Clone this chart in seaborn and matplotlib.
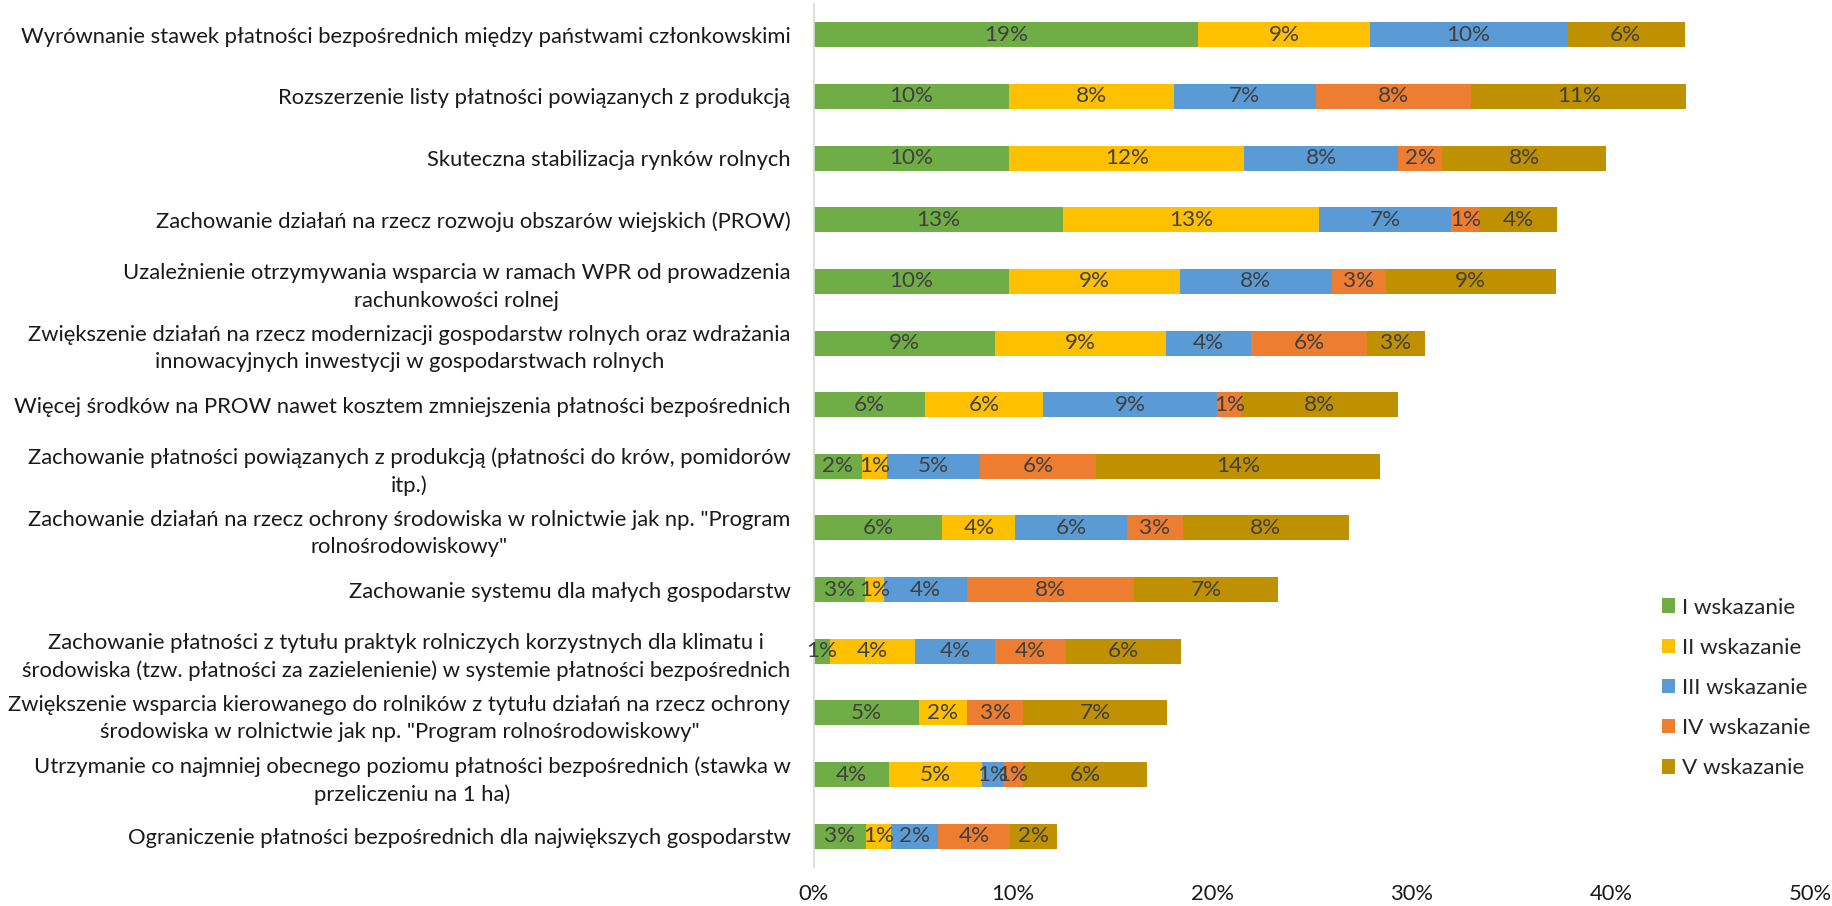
import matplotlib
matplotlib.use("Agg")
import matplotlib.pyplot as plt
import seaborn as sns
import numpy as np

categories = [
    "Wyrównanie stawek płatności bezpośrednich między państwami członkowskimi",
    "Rozszerzenie listy płatności powiązanych z produkcją",
    "Skuteczna stabilizacja rynków rolnych",
    "Zachowanie działań na rzecz rozwoju obszarów wiejskich (PROW)",
    "Uzależnienie otrzymywania wsparcia w ramach WPR od prowadzenia\nrachunkowości rolnej",
    "Zwiększenie działań na rzecz modernizacji gospodarstw rolnych oraz wdrażania\ninnowacyjnych inwestycji w gospodarstwach rolnych",
    "Więcej środków na PROW nawet kosztem zmniejszenia płatności bezpośrednich",
    "Zachowanie płatności powiązanych z produkcją (płatności do krów, pomidorów\nitp.)",
    "Zachowanie działań na rzecz ochrony środowiska w rolnictwie jak np. \"Program\nrolnośrodowiskowy\"",
    "Zachowanie systemu dla małych gospodarstw",
    "Zachowanie płatności z tytułu praktyk rolniczych korzystnych dla klimatu i\nśrodowiska (tzw. płatności za zazielenienie) w systemie płatności bezpośrednich",
    "Zwiększenie wsparcia kierowanego do rolników z tytułu działań na rzecz ochrony\nśrodowiska w rolnictwie jak np. \"Program rolnośrodowiskowy\"",
    "Utrzymanie co najmniej obecnego poziomu płatności bezpośrednich (stawka w\nprzeliczeniu na 1 ha)",
    "Ograniczenie płatności bezpośrednich dla największych gospodarstw",
]

series_names = ["I wskazanie", "II wskazanie", "III wskazanie", "IV wskazanie", "V wskazanie"]

# percent of answers
wsk_1 = [19.3, 9.8, 9.8, 12.5, 9.8, 9.1, 5.55, 2.4, 6.45, 2.55, 0.8, 5.25, 3.75, 2.6]
wsk_2 = [8.6, 8.25, 11.8, 12.85, 8.55, 8.55, 5.95, 1.25, 3.65, 0.95, 4.25, 2.45, 4.7, 1.25]
wsk_3 = [9.9, 7.15, 7.7, 6.65, 7.65, 4.3, 8.75, 4.7, 5.6, 4.2, 4.05, 0.0, 1.05, 2.4]
wsk_4 = [0.0, 7.8, 2.25, 1.4, 2.7, 5.8, 1.2, 5.8, 2.8, 8.35, 3.55, 2.8, 1.0, 3.6]
wsk_5 = [5.9, 10.8, 8.2, 3.9, 8.55, 2.9, 7.85, 14.25, 8.35, 7.25, 5.75, 7.2, 6.2, 2.35]

colors = ["#70AD47", "#FFC000", "#5B9BD5", "#ED7D31", "#BF9000"]

FONT = "Lato"
FS = 15.8

sns.set_theme(style="white")
plt.rcParams["font.family"] = [FONT, "DejaVu Sans"]

fig, ax = plt.subplots(figsize=(18.33, 9.06), dpi=100)
fig.subplots_adjust(left=814 / 1833, right=1810 / 1833, top=1 - 4 / 906, bottom=1 - 867 / 906)

left = np.zeros(len(categories))
for name, vals, color in zip(series_names, [wsk_1, wsk_2, wsk_3, wsk_4, wsk_5], colors):
    vals = np.array(vals)
    sns.barplot(x=vals, y=categories, left=left, color=color, saturation=1,
                width=0.405, linewidth=0, label=name, ax=ax)
    labels = [f"{int(v + 0.5)}%" if v > 0 else "" for v in vals]
    ax.bar_label(ax.containers[-1], labels=labels, label_type="center",
                 color="#404040", fontsize=FS + 0.4, family=FONT)
    left += vals

ax.set_xlim(0, 50)
ax.set_xticks(range(0, 51, 10))
ax.set_xticklabels([f"{t}%" for t in range(0, 51, 10)])
ax.set_xlabel("")
ax.set_ylabel("")

for side in ["top", "right", "bottom"]:
    ax.spines[side].set_visible(False)
ax.spines["left"].set_color("#d9d9d9")
ax.spines["left"].set_linewidth(1.2)

ax.tick_params(axis="x", length=0, pad=12, labelsize=FS, colors="#1a1a1a")
ax.tick_params(axis="y", length=0, pad=17, labelsize=FS, colors="#1a1a1a")
for lab in ax.get_yticklabels():
    lab.set_multialignment("center")
    lab.set_linespacing(1.45)

ax.legend(loc="center left", bbox_to_anchor=(1662 / 1833, 1 - 688 / 906),
          bbox_transform=fig.transFigure, frameon=False, fontsize=FS + 0.4,
          handlelength=0.6, handleheight=0.6, handletextpad=0.3,
          labelspacing=0.9, borderpad=0, borderaxespad=0)

fig.savefig("out.png", dpi=100)
